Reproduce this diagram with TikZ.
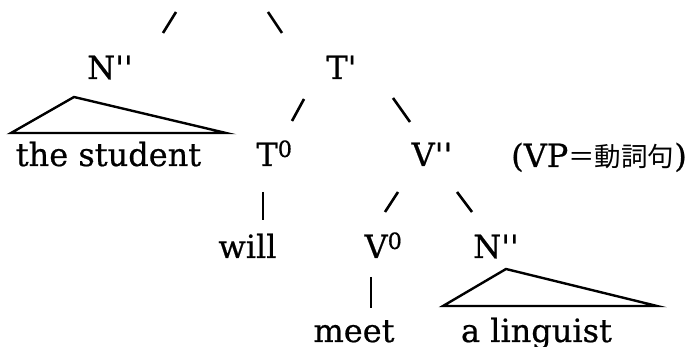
\documentclass[tikz,border=0pt]{standalone}
\usepackage{fontspec}
\setmainfont{DejaVu Serif}[FakeBold=0.6]
\newfontfamily\cjk{Noto Sans CJK JP}
\newcommand\pr{\textquotesingle}
\begin{document}
\begin{tikzpicture}[x=1pt,y=-1pt,
  lbl/.style={anchor=base, inner sep=0pt, font=\fontsize{32}{38}\selectfont},
  stroke/.style={line width=2.6pt},
  bar/.style={line width=2pt},
  tri/.style={line width=2.4pt, line join=miter}]
\useasboundingbox (0,0) rectangle (694,347);
% labels
\node[lbl] (np1) at (110,79) {N\pr\pr};
\node[lbl] (tbar) at (341.5,79) {T\pr};
\node[lbl] (stud) at (108.5,166) {the student};
\node[lbl] (t0) at (274.5,166) {T\textsuperscript{0}};
\node[lbl] (vpp) at (432,166) {V\pr\pr};
\node[lbl, anchor=base west] (note) at (511,167) {(VP{\cjk\fontsize{26.5}{32}\selectfont ＝動詞句})};
\node[lbl] (will) at (247.5,258) {will};
\node[lbl] (v0) at (383.5,258) {V\textsuperscript{0}};
\node[lbl] (np2) at (496,258) {N\pr\pr};
\node[lbl] (meet) at (354,342) {meet};
\node[lbl] (ling) at (536.5,342) {a linguist};
% branch strokes
\coordinate (a1) at (163,33); \coordinate (a2) at (176,12);
\coordinate (b1) at (268,12); \coordinate (b2) at (282,33);
\coordinate (c1) at (292,121); \coordinate (c2) at (304,99);
\coordinate (d1) at (393,98); \coordinate (d2) at (410,122);
\coordinate (e1) at (263,192); \coordinate (e2) at (263,220);
\coordinate (f1) at (385,212); \coordinate (f2) at (398,192);
\coordinate (g1) at (457,192); \coordinate (g2) at (472,212);
\coordinate (h1) at (371,277); \coordinate (h2) at (371,308);
\draw[stroke] (a1) -- (a2);
\draw[stroke] (b1) -- (b2);
\draw[stroke] (c1) -- (c2);
\draw[stroke] (d1) -- (d2);
\draw[bar] (e1) -- (e2);
\draw[stroke] (f1) -- (f2);
\draw[stroke] (g1) -- (g2);
\draw[bar] (h1) -- (h2);
% triangles
\coordinate (t1a) at (74,97); \coordinate (t1l) at (11,133); \coordinate (t1r) at (226,133);
\coordinate (t2a) at (506,269); \coordinate (t2l) at (443,306); \coordinate (t2r) at (657,306);
\draw[tri] (t1a) -- (t1l) -- (t1r) -- cycle;
\draw[tri] (t2a) -- (t2l) -- (t2r) -- cycle;
\end{tikzpicture}
\end{document}
